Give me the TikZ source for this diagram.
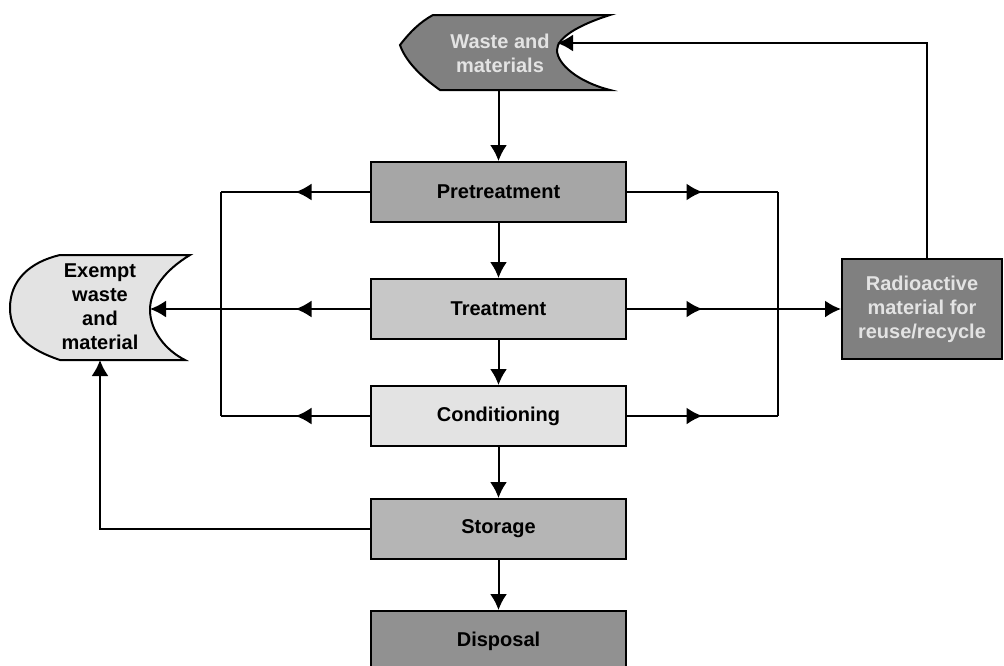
\documentclass[tikz,border=0pt]{standalone}
\usepackage{fontspec}
\setmainfont{Liberation Sans}
\usetikzlibrary{arrows.meta,decorations.markings}

\definecolor{darkfill}{gray}{0.50}
\definecolor{lighttext}{gray}{0.89}
\definecolor{prefill}{gray}{0.65}
\definecolor{treatfill}{gray}{0.78}
\definecolor{condfill}{gray}{0.89}
\definecolor{storfill}{gray}{0.71}
\definecolor{dispfill}{gray}{0.57}

\begin{document}
\begin{tikzpicture}[x=1pt,y=-1pt,>={Latex[length=16pt,width=17pt]},line width=2pt,
  font=\fontsize{20}{24}\selectfont\bfseries,
  stage/.style={draw,minimum width=255pt,minimum height=60pt,inner sep=0pt},
  midarr/.style={decoration={markings,mark=at position 0.5 with {\arrow{Latex[length=16pt,width=17pt]}}},postaction={decorate}}]
  \useasboundingbox (0,0) rectangle (1004,665);
  % input and output stores
  \draw[fill=darkfill] (433,15) -- (610,15) .. controls (578,25) and (557,38) .. (557,50)
    .. controls (557,64) and (578,82) .. (610,90) -- (440,90)
    .. controls (420,76) and (405,60) .. (400,45) .. controls (410,32) and (420,22) .. (433,15) -- cycle;
  \node[text=lighttext,align=center] (waste) at (500,53) {Waste and\\materials};
  \coordinate (wastein) at (557,43);
  \coordinate (wastebot) at (498.5,90);
  \draw[fill=condfill] (60,255) -- (190,255) .. controls (165,270) and (150,290) .. (150,310)
    .. controls (150,330) and (165,350) .. (185,360) -- (60,360)
    .. controls (30,350) and (10,335) .. (10,308) .. controls (10,280) and (30,262) .. (60,255) -- cycle;
  \node[align=center] (exempt) at (100,307) {Exempt\\waste\\and\\material};
  \coordinate (exin) at (150,309);
  \coordinate (exbot) at (100,360);
  % process stages
  \node[stage,fill=prefill] (pre) at (498.5,192) {Pretreatment};
  \node[stage,fill=treatfill] (treat) at (498.5,309) {Treatment};
  \node[stage,fill=condfill] (cond) at (498.5,416) {Conditioning};
  \node[stage,fill=storfill] (stor) at (498.5,529) {Storage};
  \node[stage,fill=dispfill] (disp) at (498.5,641) {Disposal};
  \node[draw,fill=darkfill,text=lighttext,align=center,minimum width=160pt,minimum height=100pt,inner sep=0pt]
    (radio) at (922,309) {Radioactive\\material for\\reuse/recycle};
  % main line
  \draw[->] (wastebot) -- (pre.north);
  \draw[->] (pre) -- (treat);
  \draw[->] (treat) -- (cond);
  \draw[->] (cond) -- (stor);
  \draw[->] (stor) -- (disp);
  % side buses
  \coordinate (lbus) at (221,0);
  \coordinate (rbus) at (778,0);
  \foreach \s in {pre,treat,cond} {
    \draw[midarr] (\s.west) -- (\s.west -| lbus);
    \draw[midarr] (\s.east) -- (\s.east -| rbus);
  }
  \draw (pre.west -| lbus) -- (cond.west -| lbus);
  \draw (pre.east -| rbus) -- (cond.east -| rbus);
  \draw[->] (treat.west -| lbus) -- (exin);
  \draw[->] (treat.east -| rbus) -- (radio.west);
  \draw[->] ([xshift=5pt]radio.north) |- (wastein);
  \draw[->] (stor.west) -| (exbot);
\end{tikzpicture}
\end{document}
